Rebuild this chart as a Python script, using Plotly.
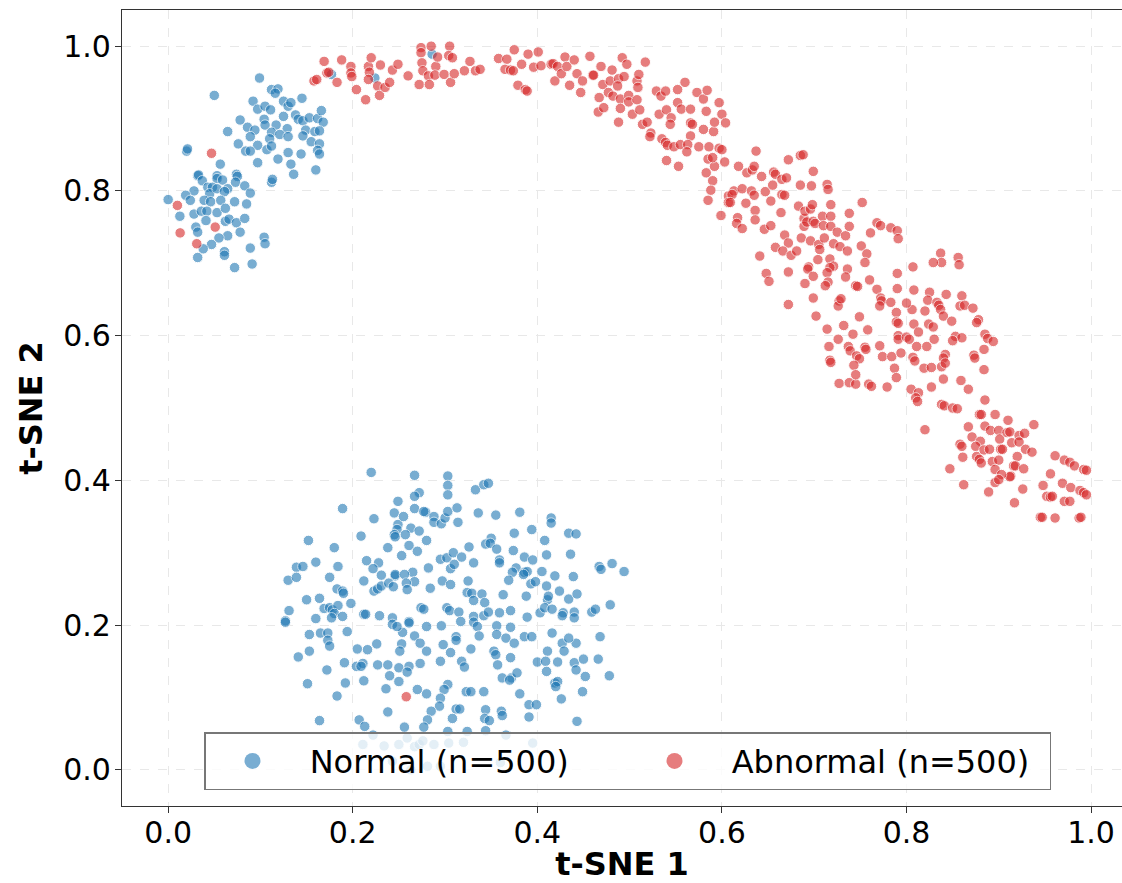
import plotly.graph_objects as go

# ---------------- data ----------------
normal_upper = [
    (0.099,0.956),(0.050,0.932),(0.112,0.940),(0.119,0.941),(0.116,0.935),(0.092,0.924),(0.097,0.913),
    (0.105,0.917),(0.111,0.912),(0.125,0.924),(0.130,0.917),(0.133,0.922),(0.145,0.928),(0.078,0.898),
    (0.0645,0.882),(0.086,0.888),(0.094,0.884),(0.104,0.899),(0.105,0.891),(0.117,0.891),(0.112,0.881),
    (0.125,0.903),(0.138,0.905),(0.141,0.899),(0.146,0.897),(0.153,0.901),(0.162,0.900),(0.166,0.911),
    (0.168,0.895),(0.129,0.886),(0.149,0.884),(0.159,0.882),(0.164,0.883),(0.089,0.875),(0.076,0.865),
    (0.097,0.863),(0.084,0.855),(0.089,0.855),(0.110,0.872),(0.107,0.857),(0.112,0.862),(0.121,0.878),
    (0.130,0.875),(0.146,0.876),(0.155,0.868),(0.164,0.865),(0.162,0.856),(0.164,0.851),(0.130,0.853),
    (0.144,0.851),(0.119,0.844),(0.097,0.839),(0.133,0.837),(0.136,0.823),(0.160,0.829),(0.112,0.812),
    (0.113,0.816),(0.020,0.855),(0.021,0.858),(0.0565,0.837),(0.032,0.821),(0.033,0.822),(0.053,0.821),
    (0.053,0.817),(0.059,0.815),(0.074,0.823),(0.075,0.820),(0.073,0.812),(0.037,0.814),(0.043,0.805),
    (0.048,0.805),(0.045,0.796),(0.053,0.803),(0.028,0.800),(0.019,0.794),(0.024,0.787),(0.0645,0.803),
    (0.061,0.799),(0.083,0.807),(0.089,0.797),(0.000,0.788),(0.039,0.787),(0.046,0.785),(0.057,0.787),
    (0.072,0.785),(0.0127,0.765),(0.028,0.768),(0.036,0.772),(0.042,0.772),(0.053,0.770),(0.062,0.776),
    (0.085,0.782),(0.041,0.759),(0.062,0.758),(0.066,0.761),(0.074,0.756),(0.083,0.762),(0.030,0.750),
    (0.032,0.743),(0.078,0.743),(0.0645,0.738),(0.055,0.735),(0.047,0.726),(0.038,0.720),(0.104,0.736),
    (0.105,0.727),(0.089,0.721),(0.061,0.716),(0.061,0.711),(0.032,0.708),(0.072,0.694),(0.091,0.699),
    (0.177,0.961),(0.224,0.956),(0.286,0.989),
]

normal_lower_left = [
    (0.220,0.411),(0.189,0.361),(0.223,0.347),(0.209,0.323),(0.152,0.317),(0.180,0.307),(0.238,0.307),
    (0.249,0.371),(0.245,0.355),(0.249,0.339),(0.248,0.332),(0.245,0.325),(0.246,0.322),(0.215,0.289),
    (0.228,0.286),(0.160,0.287),(0.139,0.280),(0.146,0.281),(0.184,0.281),(0.130,0.262),(0.139,0.266),
    (0.175,0.266),(0.222,0.278),(0.231,0.269),(0.212,0.261),(0.246,0.268),(0.246,0.270),(0.183,0.250),
    (0.189,0.247),(0.190,0.244),(0.223,0.247),(0.227,0.250),(0.231,0.254),(0.239,0.258),(0.244,0.253),
    (0.150,0.235),(0.164,0.237),(0.198,0.230),(0.169,0.223),(0.175,0.224),(0.178,0.221),(0.184,0.227),
    (0.180,0.216),(0.177,0.210),(0.189,0.212),(0.131,0.220),(0.160,0.209),(0.212,0.215),(0.214,0.215),
    (0.229,0.213),(0.127,0.206),(0.243,0.210),
]

normal_lower_right = [
    (0.267,0.407),(0.303,0.406),(0.303,0.393),(0.303,0.380),(0.333,0.387),(0.342,0.394),(0.347,0.396),
    (0.272,0.383),(0.267,0.378),(0.267,0.361),(0.255,0.350),(0.279,0.356),(0.277,0.357),(0.288,0.350),
    (0.288,0.342),(0.296,0.340),(0.300,0.348),(0.303,0.357),(0.313,0.362),(0.314,0.342),(0.336,0.355),
    (0.355,0.352),(0.381,0.356),(0.263,0.334),(0.257,0.325),(0.272,0.330),(0.261,0.310),(0.280,0.317),
    (0.270,0.302),(0.253,0.296),(0.375,0.327),(0.394,0.332),(0.415,0.348),(0.415,0.341),(0.408,0.317),
    (0.434,0.327),(0.442,0.326),(0.350,0.320),(0.344,0.312),(0.349,0.313),(0.326,0.308),(0.356,0.305),
    (0.374,0.303),(0.410,0.297),(0.436,0.298),(0.295,0.291),(0.302,0.293),(0.309,0.300),(0.318,0.294),
    (0.306,0.278),(0.310,0.284),(0.331,0.286),(0.359,0.290),(0.359,0.286),(0.386,0.294),(0.395,0.290),
    (0.377,0.279),(0.373,0.273),(0.369,0.262),(0.386,0.273),(0.389,0.274),(0.385,0.270),(0.405,0.274),
    (0.419,0.268),(0.439,0.267),(0.467,0.281),(0.469,0.277),(0.481,0.285),(0.494,0.274),(0.282,0.279),
    (0.265,0.273),(0.256,0.270),(0.267,0.260),(0.258,0.258),(0.259,0.249),(0.297,0.261),(0.306,0.256),
    (0.284,0.251),(0.325,0.261),(0.393,0.257),(0.398,0.260),(0.410,0.254),(0.324,0.245),(0.329,0.244),
    (0.331,0.234),(0.340,0.243),(0.343,0.231),(0.363,0.242),(0.388,0.240),(0.411,0.235),(0.412,0.240),
    (0.424,0.247),(0.434,0.236),(0.443,0.243),(0.274,0.224),(0.277,0.222),(0.302,0.224),(0.305,0.220),
    (0.315,0.218),(0.317,0.205),(0.331,0.212),(0.331,0.204),(0.342,0.213),(0.347,0.218),(0.359,0.217),
    (0.371,0.220),(0.389,0.211),(0.403,0.217),(0.408,0.224),(0.416,0.222),(0.428,0.217),(0.427,0.213),
    (0.440,0.218),(0.440,0.210),(0.459,0.218),(0.463,0.222),(0.479,0.228),(0.261,0.205),
]

normal_lower_bottom = [
    (0.127,0.204),(0.153,0.187),(0.165,0.189),(0.173,0.189),(0.194,0.191),(0.173,0.179),(0.175,0.171),
    (0.153,0.164),(0.141,0.156),(0.172,0.138),(0.191,0.148),(0.151,0.119),(0.192,0.120),(0.183,0.102),
    (0.164,0.068),(0.205,0.167),(0.216,0.166),(0.226,0.174),(0.204,0.143),(0.211,0.147),(0.209,0.143),
    (0.227,0.145),(0.238,0.145),(0.212,0.123),(0.236,0.112),(0.250,0.141),(0.261,0.143),(0.259,0.135),
    (0.240,0.130),(0.250,0.122),(0.273,0.147),(0.280,0.164),(0.267,0.185),(0.254,0.190),(0.253,0.174),
    (0.251,0.164),(0.243,0.201),(0.248,0.198),(0.261,0.203),(0.273,0.175),(0.280,0.198),(0.296,0.199),
    (0.298,0.173),(0.306,0.162),(0.295,0.150),(0.312,0.184),(0.312,0.179),(0.318,0.150),(0.321,0.142),
    (0.328,0.167),(0.335,0.198),(0.337,0.185),(0.353,0.164),(0.355,0.159),(0.357,0.145),(0.356,0.199),
    (0.356,0.187),(0.366,0.182),(0.371,0.197),(0.375,0.175),(0.371,0.155),(0.386,0.184),(0.394,0.184),
    (0.372,0.127),(0.378,0.134),(0.381,0.105),(0.391,0.090),(0.399,0.090),(0.391,0.073),(0.416,0.189),
    (0.427,0.175),(0.429,0.164),(0.411,0.164),(0.400,0.149),(0.409,0.150),(0.410,0.136),(0.422,0.149),
    (0.419,0.120),(0.422,0.122),(0.420,0.115),(0.426,0.098),(0.440,0.148),(0.442,0.138),(0.450,0.153),
    (0.452,0.129),(0.449,0.108),(0.443,0.067),(0.442,0.175),(0.434,0.182),(0.468,0.184),(0.466,0.153),
    (0.478,0.130),(0.362,0.127),(0.370,0.124),(0.303,0.118),(0.299,0.111),(0.295,0.099),(0.294,0.088),
    (0.280,0.105),(0.270,0.111),(0.285,0.081),(0.281,0.069),(0.277,0.059),(0.256,0.059),(0.238,0.080),
    (0.207,0.069),(0.213,0.060),(0.323,0.108),(0.328,0.108),(0.342,0.108),(0.312,0.084),(0.316,0.084),
    (0.308,0.071),(0.303,0.053),(0.324,0.053),(0.344,0.083),(0.343,0.071),(0.348,0.068),(0.344,0.054),
    (0.361,0.081),(0.362,0.075),(0.366,0.048),(0.222,0.048),(0.211,0.035),(0.234,0.033),(0.250,0.035),
    (0.259,0.044),(0.267,0.032),(0.272,0.035),(0.288,0.035),(0.276,0.040),(0.304,0.037),(0.320,0.038),
    (0.243,0.012),(0.263,0.000),(0.281,0.005),(0.295,0.005),(0.360,0.010),(0.395,0.037),
]

abnormal_left = [
    (0.010,0.780),(0.047,0.852),(0.013,0.742),(0.051,0.750),(0.031,0.727),(0.258,0.101),
]

abnormal_arc_top = [
    (0.158,0.952),(0.161,0.954),(0.172,0.963),(0.174,0.964),(0.169,0.979),(0.188,0.981),(0.183,0.950),
    (0.198,0.972),(0.198,0.963),(0.199,0.958),(0.204,0.940),(0.214,0.926),(0.217,0.972),(0.218,0.964),
    (0.217,0.954),(0.220,0.984),(0.230,0.974),(0.227,0.945),(0.229,0.932),(0.235,0.943),(0.240,0.950),
    (0.243,0.967),(0.249,0.975),(0.260,0.959),(0.272,0.947),(0.274,0.998),(0.274,0.991),(0.285,1.000),
    (0.275,0.977),(0.276,0.966),(0.282,0.959),(0.283,0.947),(0.290,0.972),(0.292,0.985),(0.289,0.960),
    (0.299,0.961),(0.305,1.000),(0.304,0.987),(0.308,0.984),(0.306,0.950),(0.310,0.962),(0.321,0.966),
    (0.327,0.979),(0.333,0.966),(0.338,0.968),(0.358,0.983),
    (0.367,0.982),(0.375,0.995),(0.365,0.968),(0.371,0.967),(0.374,0.966),(0.383,0.975),(0.379,0.946),
    (0.387,0.940),(0.389,0.938),(0.390,0.989),(0.401,0.992),(0.396,0.971),(0.404,0.973),(0.415,0.975),
    (0.417,0.976),(0.422,0.972),(0.419,0.952),(0.426,0.962),(0.430,0.985),(0.432,0.972),(0.440,0.981),
    (0.435,0.946),(0.443,0.962),(0.447,0.936),(0.449,0.952),(0.457,0.986),(0.460,0.960),(0.461,0.960),
    (0.469,0.972),(0.471,0.947),(0.467,0.929),(0.466,0.909),(0.472,0.915),(0.479,0.952),(0.481,0.967),
    (0.477,0.936),(0.482,0.931),(0.488,0.955),(0.487,0.945),(0.492,0.984),(0.497,0.975),(0.494,0.958),
    (0.490,0.927),(0.490,0.914),(0.488,0.895),(0.499,0.932),(0.499,0.923),(0.503,0.906),(0.508,0.952),
    (0.509,0.943),(0.510,0.961),(0.508,0.926),(0.511,0.912),(0.517,0.978),(0.514,0.892),(0.519,0.895),
    (0.523,0.880),(0.522,0.875),(0.529,0.938),(0.534,0.931),(0.539,0.938),(0.532,0.906),(0.540,0.912),
    (0.545,0.901),(0.544,0.892),(0.535,0.872),(0.539,0.867),(0.541,0.863),(0.548,0.861),(0.552,0.940),
    (0.552,0.922),(0.555,0.864),(0.560,0.950),(0.556,0.913),(0.566,0.913),(0.566,0.894),(0.568,0.892),
    (0.566,0.876),(0.563,0.864),(0.562,0.854),(0.540,0.842),(0.553,0.834),(0.573,0.936),(0.580,0.927),
    (0.584,0.939),(0.575,0.861),(0.580,0.885),(0.583,0.910),(0.591,0.882),(0.592,0.895),(0.586,0.861),
    (0.585,0.844),(0.592,0.834),(0.590,0.846),(0.583,0.825),(0.590,0.814),(0.588,0.801),(0.585,0.787),
    (0.597,0.922),(0.600,0.906),(0.604,0.894),(0.597,0.859),(0.600,0.857),(0.603,0.840),(0.599,0.766),
    (0.607,0.793),(0.607,0.784),
]

abnormal_arc_mid = [
    (0.637,0.855),(0.618,0.834),(0.627,0.825),(0.633,0.829),(0.635,0.834),(0.643,0.820),(0.656,0.826),
    (0.658,0.823),(0.665,0.816),(0.670,0.818),(0.672,0.843),(0.685,0.849),(0.688,0.850),(0.699,0.827),
    (0.613,0.800),(0.611,0.795),(0.609,0.784),(0.622,0.803),(0.626,0.783),(0.632,0.800),(0.635,0.794),
    (0.647,0.799),(0.655,0.808),(0.653,0.786),(0.665,0.795),(0.668,0.794),(0.685,0.808),(0.697,0.807),
    (0.714,0.809),(0.715,0.802),(0.718,0.781),(0.683,0.779),(0.689,0.762),(0.690,0.772),(0.696,0.775),
    (0.698,0.781),(0.664,0.770),(0.636,0.773),(0.636,0.760),(0.617,0.763),(0.616,0.755),(0.622,0.748),
    (0.646,0.747),(0.653,0.752),(0.668,0.739),(0.672,0.728),(0.658,0.722),(0.666,0.717),(0.675,0.711),
    (0.681,0.717),(0.641,0.710),(0.686,0.735),(0.689,0.751),(0.692,0.757),(0.699,0.758),(0.701,0.755),
    (0.709,0.765),(0.710,0.752),(0.718,0.765),(0.718,0.751),(0.725,0.743),(0.734,0.738),(0.738,0.769),
    (0.738,0.751),(0.696,0.731),(0.705,0.726),(0.706,0.719),(0.711,0.735),(0.721,0.727),(0.728,0.723),
    (0.736,0.717),(0.704,0.705),(0.717,0.706),(0.721,0.696),(0.717,0.694),(0.694,0.695),(0.693,0.692),
    (0.736,0.692),(0.714,0.687),(0.699,0.682),(0.672,0.688),(0.648,0.686),(0.651,0.675),(0.690,0.672),
    (0.715,0.674),(0.712,0.669),(0.734,0.681),(0.745,0.669),(0.747,0.668),(0.752,0.784),(0.751,0.724),
    (0.757,0.713),(0.755,0.701),(0.761,0.742),(0.760,0.677),(0.768,0.756),(0.772,0.752),(0.783,0.749),
    (0.790,0.745),(0.791,0.734),(0.672,0.643),(0.699,0.652),(0.702,0.627),(0.727,0.648),(0.726,0.641),
    (0.729,0.651),(0.749,0.626),(0.732,0.614),(0.714,0.609),(0.726,0.595),(0.742,0.602),(0.758,0.608),
    (0.716,0.585),(0.737,0.585),(0.739,0.579),(0.717,0.566),(0.718,0.563),(0.746,0.572),(0.749,0.568),
    (0.755,0.584),(0.756,0.581),(0.771,0.586),(0.743,0.559),(0.774,0.571),(0.784,0.571),(0.768,0.664),
    (0.772,0.652),(0.773,0.648),(0.771,0.641),(0.783,0.646),(0.789,0.632),(0.789,0.619),(0.791,0.617),
    (0.790,0.686),(0.790,0.665),(0.791,0.600),(0.791,0.595),(0.787,0.555),
]

abnormal_arc_low = [
    (0.837,0.714),(0.838,0.701),(0.829,0.701),(0.856,0.708),(0.857,0.698),(0.807,0.695),(0.808,0.663),
    (0.825,0.660),(0.843,0.657),(0.860,0.655),(0.823,0.649),(0.833,0.646),(0.835,0.642),(0.837,0.636),
    (0.806,0.636),(0.800,0.645),(0.820,0.634),(0.840,0.627),(0.849,0.620),(0.858,0.641),(0.863,0.642),
    (0.872,0.638),(0.878,0.622),(0.876,0.618),(0.808,0.616),(0.824,0.616),(0.829,0.612),(0.813,0.605),
    (0.800,0.598),(0.803,0.595),(0.811,0.585),(0.822,0.585),(0.830,0.595),(0.853,0.599),(0.860,0.597),
    (0.850,0.593),(0.885,0.602),(0.888,0.596),(0.894,0.592),(0.884,0.581),(0.873,0.573),(0.874,0.569),
    (0.842,0.574),(0.840,0.569),(0.807,0.570),(0.809,0.565),(0.794,0.576),(0.819,0.555),(0.827,0.556),
    (0.838,0.557),(0.842,0.562),(0.884,0.553),(0.727,0.534),(0.738,0.535),(0.745,0.533),(0.759,0.533),
    (0.762,0.530),(0.779,0.529),(0.745,0.546),(0.789,0.542),(0.840,0.540),(0.827,0.529),(0.805,0.526),
    (0.813,0.521),(0.810,0.514),(0.812,0.509),(0.859,0.538),(0.867,0.526),(0.838,0.505),(0.841,0.503),
    (0.850,0.500),(0.855,0.499),(0.885,0.511),(0.879,0.491),(0.881,0.491),(0.896,0.491),(0.910,0.483),
    (0.938,0.477),(0.867,0.474),(0.885,0.475),(0.891,0.469),(0.900,0.469),(0.901,0.457),(0.909,0.466),
    (0.912,0.467),(0.922,0.462),(0.928,0.465),(0.820,0.470),(0.871,0.460),(0.880,0.454),(0.858,0.450),
    (0.860,0.447),(0.875,0.447),(0.876,0.433),(0.884,0.442),(0.890,0.443),(0.902,0.443),(0.904,0.443),
    (0.914,0.452),(0.922,0.453),(0.929,0.443),(0.936,0.439),(0.861,0.432),(0.879,0.429),(0.881,0.424),
    (0.893,0.426),(0.900,0.428),(0.920,0.433),(0.916,0.420),(0.918,0.420),(0.927,0.416),(0.913,0.406),
    (0.912,0.405),(0.896,0.415),(0.903,0.408),(0.896,0.397),(0.900,0.401),(0.847,0.416),(0.862,0.394),
    (0.889,0.384),(0.917,0.369),(0.926,0.388),(0.961,0.434),(0.971,0.428),(0.977,0.425),(0.982,0.420),
    (0.992,0.415),(0.995,0.414),(0.956,0.409),(0.948,0.393),(0.969,0.396),(0.978,0.390),(0.952,0.378),
    (0.956,0.377),(0.958,0.378),(0.971,0.371),(0.977,0.371),(0.988,0.386),(0.992,0.383),(0.995,0.380),
    (0.945,0.349),(0.947,0.349),(0.961,0.348),(0.987,0.348),(0.989,0.349),
]

series_names = ["Normal (n=500)", "Abnormal (n=500)"]
series_colors = ["#1f77b4", "#d62728"]
x_ticks = [0.0, 0.2, 0.4, 0.6, 0.8, 1.0]
y_ticks = [0.0, 0.2, 0.4, 0.6, 0.8, 1.0]

normal_pts = normal_upper + normal_lower_left + normal_lower_right + normal_lower_bottom
abnormal_pts = abnormal_left + abnormal_arc_top + abnormal_arc_mid + abnormal_arc_low

FONT = "DejaVu Sans"
fig = go.Figure()
for pts, name, col in [(normal_pts, series_names[0], series_colors[0]),
                       (abnormal_pts, series_names[1], series_colors[1])]:
    fig.add_trace(go.Scatter(
        x=[p[0] for p in pts], y=[p[1] for p in pts], mode="markers",
        marker=dict(size=10.5, color=col, opacity=0.6, line=dict(color="white", width=1)),
        showlegend=False, hoverinfo="skip"))
    # legend entry with a larger symbol
    fig.add_trace(go.Scatter(
        x=[None], y=[None], mode="markers", name="\u00a0" + name,
        marker=dict(size=18, color=col, opacity=0.6), showlegend=True))

axis_common = dict(
    showline=True, linecolor="#333333", linewidth=1.2,
    ticks="outside", ticklen=6, tickwidth=1.2, tickcolor="#333333",
    showgrid=True, gridcolor="#e8e8e8", gridwidth=1, griddash="dash",
    zeroline=False, tickformat=".1f", automargin=False,
    tickfont=dict(family=FONT, size=30, color="black"),
)
fig.update_xaxes(range=[-0.05, 1.0335], tickvals=x_ticks, mirror=True, ticklabelstandoff=-6,
                 title=dict(text="t-SNE 1", font=dict(family=FONT, size=32, color="black", weight="bold"),
                            standoff=15),
                 **axis_common)
fig.update_yaxes(range=[-0.05, 1.05], tickvals=y_ticks, ticklabelstandoff=-2,
                 title=dict(text="t-SNE 2", font=dict(family=FONT, size=32, color="black", weight="bold"),
                            standoff=10),
                 **axis_common)

fig.update_layout(
    width=1122, height=883,
    margin=dict(l=122, r=0, t=10, b=77, pad=0),
    paper_bgcolor="white", plot_bgcolor="white",
    font=dict(family=FONT, color="black"),
    hovermode=False,
    legend=dict(orientation="h", x=0.5055, xanchor="center", y=0.02, yanchor="bottom",
                bgcolor="rgba(255,255,255,0.8)", bordercolor="#777777", borderwidth=1.5,
                font=dict(family=FONT, size=32, color="black"),
                itemwidth=84, entrywidth=323, entrywidthmode="pixels"),
)

fig.write_html("out.html", config={"displayModeBar": False},
               post_script="document.body.style.margin='0px';document.body.style.overflow='hidden';")
